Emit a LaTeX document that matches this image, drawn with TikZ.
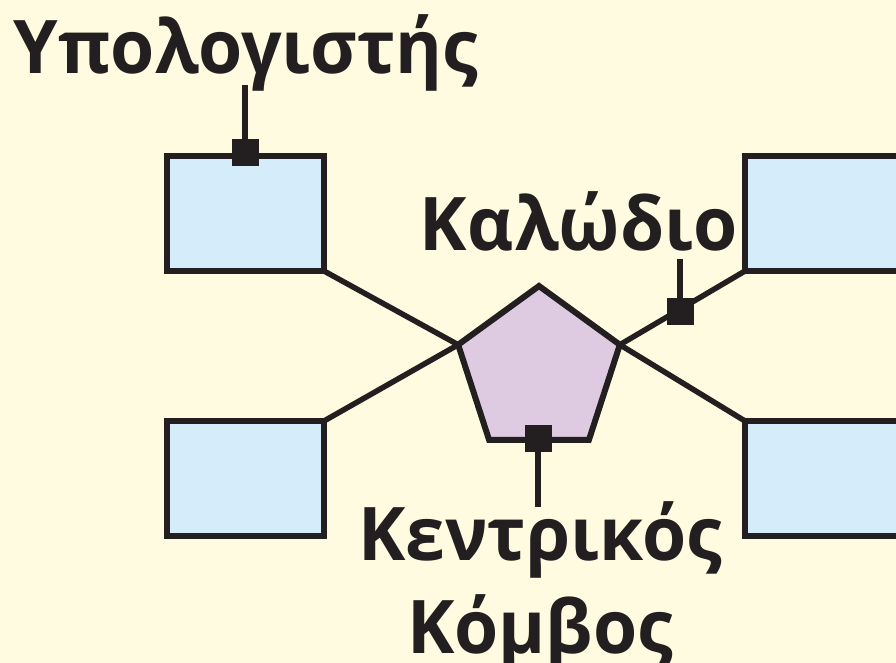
\documentclass[tikz,border=0pt]{standalone}
\usepackage{fontspec}
\setmainfont{Open Sans}
\usetikzlibrary{shapes.geometric}
\definecolor{bg}{HTML}{FEFBE0}
\definecolor{boxfill}{HTML}{D5ECFA}
\definecolor{hubfill}{HTML}{DECBE2}
\definecolor{ink}{HTML}{231F20}
\tikzset{
  pc/.style={draw=ink, fill=boxfill, line width=6pt, minimum width=157pt, minimum height=115pt, inner sep=0pt, outer sep=0pt},
  hub/.style={draw=ink, fill=hubfill, line width=6pt, regular polygon, regular polygon sides=5, minimum size=170pt, inner sep=0pt, outer sep=0pt},
  cable/.style={draw=ink, line width=5.5pt},
  marker/.style={fill=ink, minimum size=27pt, inner sep=0pt, outer sep=0pt},
  lbl/.style={text=ink, font=\bfseries\fontsize{74}{80}\selectfont, inner sep=0pt, anchor=base, xscale=0.965},
}
\begin{document}
\begin{tikzpicture}[x=1pt,y=-1pt]
\useasboundingbox (0,0) rectangle (896,663);
\clip (0,0) rectangle (896,663);
\fill[bg] (0,0) rectangle (896,663);
% computers
\node[pc] (pc1) at (245.5,213.5) {};
\node[pc] (pc2) at (245.5,478.5) {};
\node[pc] (pc3) at (823.5,213.5) {};
\node[pc] (pc4) at (823.5,478.5) {};
% hub
\node[hub] (hub) at (539,371) {};
% cables
\draw[cable] (pc1.south east) -- (hub.corner 2);
\draw[cable] (pc2.north east) -- (hub.corner 2);
\draw[cable] (hub.corner 5) -- (pc3.south west);
\draw[cable] (hub.corner 5) -- (pc4.north west);
% markers
\node[marker] (m1) at (245,153) {};
\node[marker] (m2) at (680,311) {};
\node[marker] (m3) at (538,438) {};
% labels
\node[lbl] (l1) at (246,74) {Υπολογιστής};
\node[lbl] (l2) at (579,250) {Καλώδιο};
\node[lbl] (l3) at (540,560) {Κεντρικός};
\node[lbl] (l4) at (540,653) {Κόμβος};
\coordinate (e1) at (245,85);
\coordinate (e2) at (680,259);
\coordinate (e3) at (538,507);
\draw[cable, line width=6pt] (m1) -- (e1);
\draw[cable, line width=6pt] (m2) -- (e2);
\draw[cable, line width=6pt] (m3) -- (e3);
\end{tikzpicture}
\end{document}
